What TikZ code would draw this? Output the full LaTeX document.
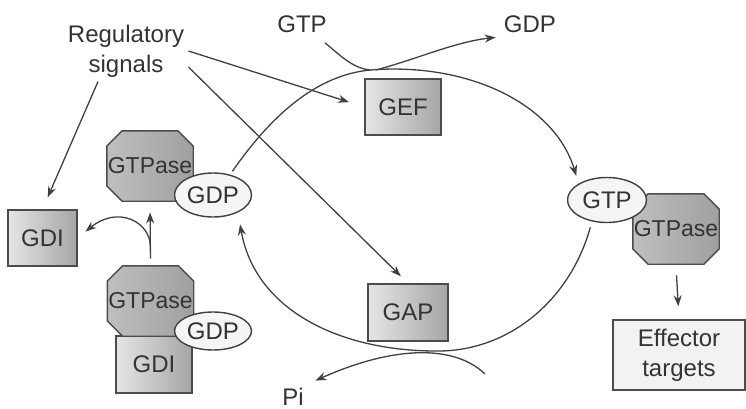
\documentclass[tikz,border=0pt]{standalone}
\usepackage{fontspec}
\setmainfont{Liberation Sans}
\usetikzlibrary{shapes.geometric,arrows.meta}

\tikzset{
  lbl/.style={font=\fontsize{12}{15}\selectfont, text=black!80, inner sep=2pt},
  protbox/.style={draw=black!70, line width=0.7pt, left color=gray!20, right color=gray!70,
    minimum width=#1, minimum height=28pt, inner sep=0pt,
    font=\fontsize{12}{14}\selectfont, text=black!80},
  % octagon drawn inside the node's box, corners cut by 8pt
  octa/.style={rectangle, minimum width=44pt, minimum height=36pt, inner sep=0pt,
    font=\fontsize{11.5}{13}\selectfont, text=black!80,
    path picture={
      \path[draw=black!70, line width=0.7pt, left color=gray!50, right color=gray!75]
        ([shift={(8pt,-0.4pt)}]path picture bounding box.north west)
        -- ([shift={(-8pt,-0.4pt)}]path picture bounding box.north east)
        -- ([shift={(-0.4pt,-8pt)}]path picture bounding box.north east)
        -- ([shift={(-0.4pt,8pt)}]path picture bounding box.south east)
        -- ([shift={(-8pt,0.4pt)}]path picture bounding box.south east)
        -- ([shift={(8pt,0.4pt)}]path picture bounding box.south west)
        -- ([shift={(0.4pt,8pt)}]path picture bounding box.south west)
        -- ([shift={(0.4pt,-8pt)}]path picture bounding box.north west) -- cycle;
    }},
  nucl/.style={ellipse, draw=black!75, line width=0.7pt, fill=gray!8, minimum width=38.5pt,
    inner sep=0pt, font=\fontsize{12}{14}\selectfont, text=black!80},
  effbox/.style={draw=black!70, line width=0.7pt, fill=gray!10, minimum width=66pt, minimum height=35pt,
    align=center, font=\fontsize{12}{15}\selectfont, text=black!80},
  line/.style={draw=black!75, line width=0.65pt},
  arr/.style={line, -{Stealth[length=5.5pt, width=4pt]}}
}

\begin{document}
\begin{tikzpicture}[x=0.5pt, y=-0.5pt]
    \useasboundingbox (0,0) rectangle (746,408);

    % labels
    \node[lbl, align=center] (reg) at (126,51) {Regulatory\\signals};
    \node[lbl] (gtpIn) at (302,24) {GTP};
    \node[lbl] (gdpOut) at (530,24) {GDP};
    \node[lbl] (pi) at (293,397) {Pi};

    % exchange factors
    \node[protbox=38pt] (gef) at (403,107) {GEF};
    \node[protbox=40pt, minimum height=28.5pt] (gap) at (408,312.5) {GAP};
    \node[protbox=34.5pt] (gdiLeft) at (42.5,238) {GDI};

    % inactive GTPase
    \node[octa] (gtpaseTop) at (150,166) {GTPase};
    \node[nucl, minimum height=22pt] (gdpTop) at (213,195) {GDP};

    % GTPase held by GDI
    \node[protbox=38pt, minimum height=28.5pt] (gdiLow) at (154,364.5) {GDI};
    \node[octa] (gtpaseLow) at (150.5,301) {GTPase};
    \node[nucl, minimum height=19pt] (gdpLow) at (213,331) {GDP};

    % active GTPase
    \node[octa] (gtpaseRight) at (676,229) {GTPase};
    \node[nucl, minimum width=39.5pt, minimum height=22.5pt] (gtpEll) at (607,200) {GTP};
    \node[effbox] (effector) at (679,355) {Effector\\targets};

    \coordinate (top) at (370,70);
    \coordinate (bot) at (440,351);
    \coordinate (piStart) at (485,374);

    % regulatory signals
    \draw[arr, shorten >=8pt] (reg.east) -- (gef.west);
    \draw[arr, shorten >=5pt] ([yshift=-8pt]reg.east) -- (gap.north);
    \draw[arr, shorten >=6.5pt] ([xshift=-14pt]reg.south) -- (gdiLeft.north);

    % the cycle
    \draw[arr, shorten <=2pt, shorten >=4pt] (gdpTop.50) .. controls (275,110) and (320,75) .. (top)
        .. controls (470,62) and (555,105) .. (gtpEll.150);
    \draw[arr, shorten <=3pt, shorten >=6pt] (gtpEll.235) .. controls (570,300) and (510,350) .. (bot)
        .. controls (340,352) and (255,310) .. (gdpTop.-35);
    \draw[line] ([shift={(-3pt,-3pt)}]gtpIn.south east) .. controls (340,55) and (352,68) .. (top);
    \draw[arr, shorten >=2pt] ([xshift=3pt]top) .. controls (420,58) and (455,42) .. (gdpOut.south west);
    \draw[arr, shorten >=4pt] (piStart) .. controls (455,345) and (395,345) .. (pi.north east);

    % release from GDI
    \draw[arr, shorten <=3pt, shorten >=5pt] (gtpaseLow.north) -- (gtpaseTop.south);
    \path (gtpaseLow.north) -- (gtpaseTop.south) coordinate[pos=0.3] (branch);
    \draw[arr, shorten >=5pt] (branch) .. controls (150,222) and (118,205) .. (gdiLeft.east);

    % effectors
    \draw[arr, shorten <=5pt, shorten >=6.5pt] (gtpaseRight.south) -- (effector.north);
\end{tikzpicture}
\end{document}
